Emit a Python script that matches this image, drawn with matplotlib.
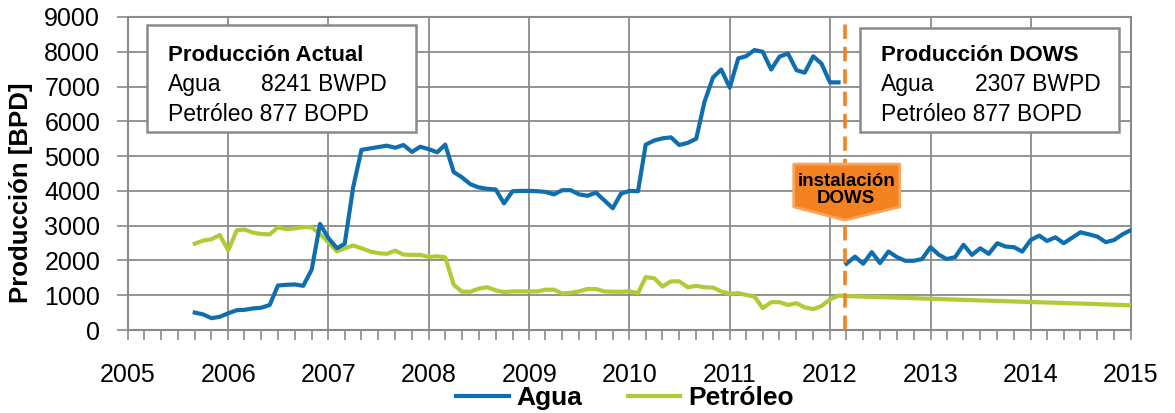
import numpy as np
import pandas as pd
import matplotlib
matplotlib.use("Agg")
import matplotlib.pyplot as plt
import matplotlib.dates as mdates
from matplotlib.patches import Rectangle, Polygon

# datos mensuales (BPD) desde sep-2005 hasta feb-2012
agua = [500, 450, 340, 380,
        480, 570, 580, 620, 640, 720, 1280, 1300, 1310, 1270, 1740, 3050,
        2640, 2350, 2480, 4110, 5180, 5220, 5260, 5300, 5240, 5320, 5120, 5270,
        5200, 5110, 5330, 4540, 4390, 4190, 4100, 4060, 4040, 3640, 3990, 4000,
        4000, 3990, 3970, 3900, 4020, 4020, 3900, 3860, 3950, 3730, 3500, 3920,
        4000, 3990, 5330, 5450, 5510, 5540, 5320, 5380, 5500, 6560, 7260, 7490,
        6970, 7810, 7870, 8050, 8000, 7490, 7860, 7950, 7470, 7400, 7870, 7660,
        7120, 7120]
petroleo = [2480, 2570, 2610, 2730,
            2290, 2870, 2890, 2800, 2760, 2750, 2950, 2900, 2920, 2960, 2950, 2760,
            2520, 2260, 2350, 2430, 2350, 2260, 2210, 2190, 2280, 2170, 2160, 2160,
            2100, 2120, 2090, 1300, 1100, 1100, 1190, 1230, 1140, 1090, 1110, 1110,
            1110, 1110, 1160, 1160, 1050, 1070, 1110, 1180, 1180, 1110, 1100, 1100,
            1110, 1060, 1520, 1490, 1250, 1400, 1400, 1230, 1270, 1230, 1220, 1110,
            1040, 1060, 1010, 960, 630, 800, 800, 720, 770, 650, 600, 690,
            880, 990]

# agua con DOWS, mar-2012 a ene-2015
agua_dows = [1905, 2110, 1905, 2240, 1925, 2255, 2095, 1990, 1990, 2040,
             2380, 2160, 2040, 2095, 2450, 2160, 2350, 2190, 2495, 2400, 2380, 2255,
             2590, 2715, 2560, 2665, 2495, 2655, 2810, 2750, 2685, 2525, 2590, 2750,
             2875]

# pronostico de petroleo despues de la instalacion
fechas_pron = ["2012-03-01", "2012-07-01", "2013-01-01", "2013-07-01",
               "2014-01-01", "2014-07-01", "2015-01-01"]
petroleo_pron = [975, 945, 900, 850, 805, 760, 710]

fecha_dows = "2012-02-24"

fechas = pd.date_range("2005-09-01", periods=len(agua), freq="MS")
fechas_dows = pd.date_range("2012-03-01", periods=len(agua_dows), freq="MS")

azul = "#0F6FAE"
verde = "#AFCB36"
naranja = "#F58220"
gris = "#8A8A8A"

plt.rcParams["font.family"] = ["Liberation Sans", "DejaVu Sans"]

fig = plt.figure(figsize=(11.75, 4.13), dpi=100)
ax = fig.add_axes([128 / 1175, 83 / 413, 1003 / 1175, 313 / 413])

ax.plot(fechas, agua, color=azul, lw=3, label="Agua", zorder=4)
ax.plot(fechas_dows, agua_dows, color=azul, lw=3, zorder=4)
x_pet = list(fechas) + list(pd.to_datetime(fechas_pron))
ax.plot(x_pet, petroleo + petroleo_pron, color=verde, lw=3, label="Petróleo", zorder=3)

ax.axvline(pd.Timestamp(fecha_dows), ymin=0, ymax=1, color=naranja, lw=2.6,
           dashes=(4, 2.2), zorder=5)

ax.set_xlim(pd.Timestamp("2005-01-01"), pd.Timestamp("2015-01-01"))
ax.set_ylim(0, 9000)
ax.set_yticks(np.arange(0, 9001, 1000))
ax.xaxis.set_major_locator(mdates.YearLocator())
ax.xaxis.set_major_formatter(mdates.DateFormatter("%Y"))
ax.xaxis.set_minor_locator(mdates.MonthLocator(bymonth=[3, 5, 7, 9, 11]))
ax.grid(True, which="major", color=gris, lw=1.3, zorder=0)
ax.tick_params(axis="both", which="both", direction="out", color=gris,
               labelsize=18, width=1.2)
ax.tick_params(axis="x", which="major", length=7, pad=17)
ax.tick_params(axis="x", which="minor", length=7)
ax.tick_params(axis="y", length=8, pad=12)
for s in ax.spines.values():
    s.set_color(gris)
    s.set_linewidth(1.5)

fig.text(21 / 1175, 1 - 193 / 413, "Producción [BPD]", rotation=90,
         ha="center", va="center", fontsize=18.5, fontweight="bold")

# cuadros de texto
for x0, x1, y1, titulo, agua_txt, xt, xn in [
        (0.019, 0.287, 0.974, "Producción Actual", "8241 BWPD", 0.040, 0.133),
        (0.730, 0.988, 0.965, "Producción DOWS", "2307 BWPD", 0.751, 0.844)]:
    ax.add_patch(Rectangle((x0, 0.633), x1 - x0, y1 - 0.633, transform=ax.transAxes,
                           facecolor="white", edgecolor=gris, lw=1.8, zorder=6))
    ax.text(xt, 0.859, titulo, transform=ax.transAxes, fontsize=16,
            fontweight="bold", va="baseline", zorder=7)
    ax.text(xt, 0.764, "Agua", transform=ax.transAxes, fontsize=16.5,
            va="baseline", zorder=7)
    ax.text(xn, 0.764, agua_txt, transform=ax.transAxes, fontsize=16.5,
            va="baseline", zorder=7)
    ax.text(xt, 0.668, "Petróleo 877 BOPD", transform=ax.transAxes, fontsize=16.5,
            va="baseline", zorder=7)

# flecha "instalacion DOWS"
xc = mdates.date2num(pd.Timestamp(fecha_dows))
forma = [(xc - 186, 4770), (xc + 200, 4770), (xc + 200, 3540),
         (xc, 3160), (xc - 186, 3540)]
ax.add_patch(Polygon(forma, closed=True, facecolor=naranja, edgecolor="#F8A45C",
                     lw=2, joinstyle="round", zorder=6))
ax.text(xc + 5, 4030, "instalación\nDOWS", ha="center", va="center",
        fontsize=13.5, fontweight="bold", linespacing=1.0, zorder=7)

ax.legend(loc="center", bbox_to_anchor=(625 / 1175, 1 - 398 / 413),
          bbox_transform=fig.transFigure, ncol=2, frameon=False,
          prop={"size": 19, "weight": "bold"}, handlelength=2.0,
          handletextpad=0.3, columnspacing=1.7, borderpad=0)

fig.savefig("out.png", dpi=100)
